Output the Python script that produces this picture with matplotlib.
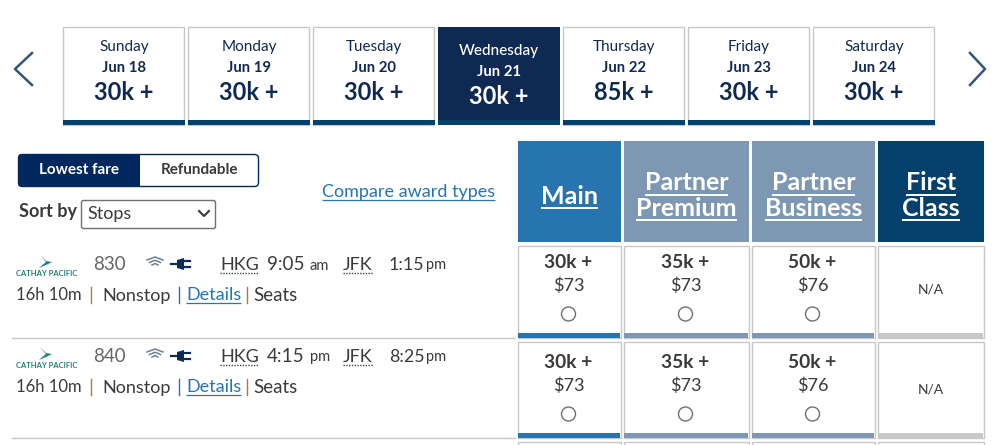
#!/usr/bin/python3
import matplotlib.pyplot as plt
from matplotlib.patches import Rectangle, FancyBboxPatch, Circle, Polygon

plt.rcParams['font.family'] = ['Lato', 'DejaVu Sans']

days = ['Sunday', 'Monday', 'Tuesday', 'Wednesday', 'Thursday', 'Friday', 'Saturday']
dates = ['Jun 18', 'Jun 19', 'Jun 20', 'Jun 21', 'Jun 22', 'Jun 23', 'Jun 24']
day_prices = ['30k +', '30k +', '30k +', '30k +', '85k +', '30k +', '30k +']
selected_day = 3

cabins = [['Main'], ['Partner', 'Premium'], ['Partner', 'Business'], ['First', 'Class']]
flight_numbers = ['830', '840']
depart = ['9:05', '4:15']
depart_ampm = ['am', 'pm']
arrive = ['1:15', '8:25']
arrive_ampm = ['pm', 'pm']
miles = ['30k +', '35k +', '50k +']
fees = ['$73', '$73', '$76']

NAVY = '#0f2a52'
TEAL = '#03406b'
BLUE = '#2774ae'
SLATE = '#7e97b3'
GREY = '#c8c8c8'
TEXT = '#3a3a3a'

dpi = 100
fig = plt.figure(figsize=(1008/dpi, 445/dpi), dpi=dpi)
ax = fig.add_axes([0, 0, 1, 1])
ax.set_xlim(0, 1008)
ax.set_ylim(445, 0)
ax.axis('off')


def box(x, y, w, h, fc='white', ec='none', lw=0, z=1):
    ax.add_patch(Rectangle((x, y), w, h, fc=fc, ec=ec, lw=lw, zorder=z))


def txt(x, y, s, size, color=TEXT, weight='normal', ha='center', **kw):
    return ax.text(x, y, s, fontsize=size, color=color, fontweight=weight,
                   ha=ha, va='center', zorder=5, **kw)


def under(t, y, color, lw=1.2, ls='-'):
    # line under a text, same width as the text
    bb = t.get_window_extent(fig.canvas.get_renderer())
    ax.plot([bb.x0, bb.x1], [y, y], color=color, lw=lw, ls=ls, zorder=5,
            solid_capstyle='butt')


# day strip
day_x = [63, 188, 313, 438, 563, 688, 813]
for i, x in enumerate(day_x):
    cx = x + 61
    if i == selected_day:
        box(x, 27, 122, 98, fc=NAVY)
        box(x, 120, 122, 5, fc=TEAL, z=2)
        txt(cx, 50.5, days[i], 11, color='white', weight='medium')
        txt(cx, 72, dates[i], 10.7, color='white', weight='bold')
        txt(cx, 96.5, day_prices[i], 17, color='white', weight='bold')
    else:
        box(x - 0.5, 26.5, 121, 98, ec=GREY, lw=1)
        box(x, 120, 122, 5, fc=TEAL, z=2)
        txt(cx, 46.5, days[i], 11, color=NAVY)
        txt(cx, 68, dates[i], 10.7, color=NAVY, weight='bold')
        txt(cx, 92.5, day_prices[i], 17, color=NAVY, weight='bold')

ax.plot([32, 15, 32], [53, 69, 85], color='#33557a', lw=1.8, zorder=5)
ax.plot([970, 985, 970], [53, 69, 85], color='#33557a', lw=1.8, zorder=5)

# fare toggle
ax.add_patch(FancyBboxPatch((18.5, 154.5), 240, 32, boxstyle='round,pad=0,rounding_size=4',
                            fc='white', ec='#00285e', lw=1, zorder=2))
ax.add_patch(FancyBboxPatch((18, 154), 122, 33, boxstyle='round,pad=0,rounding_size=4',
                            fc='#00285e', ec='none', zorder=3))
box(130, 154, 10, 33, fc='#00285e', z=3)
txt(79, 169.5, 'Lowest fare', 11, color='white', weight='bold')
txt(199, 169.5, 'Refundable', 11, weight='bold')

txt(19, 211, 'Sort by', 13, weight='bold', ha='left')
ax.add_patch(FancyBboxPatch((81.5, 200.5), 134, 28, boxstyle='round,pad=0,rounding_size=2',
                            fc='white', ec='#707070', lw=1, zorder=2))
txt(87, 213.5, 'Stops', 13, ha='left')
ax.plot([199, 204, 209], [211, 216, 211], color=TEXT, lw=1.5, zorder=5)

t = txt(322, 191.5, 'Compare award types', 13, color=BLUE, ha='left')
under(t, 199.5, BLUE, lw=0.9)

# cabin headers
col_x = [518, 624, 752, 878]
col_w = [103, 125, 123, 106]
col_fill = [BLUE, SLATE, SLATE, TEAL]
foot_fill = [BLUE, SLATE, SLATE, GREY]
for i, x in enumerate(col_x):
    box(x, 141, col_w[i], 101, fc=col_fill[i])
    cx = x + col_w[i] / 2
    lines = cabins[i]
    ys = [196] if len(lines) == 1 else [183, 208]
    for s, y in zip(lines, ys):
        t = txt(cx, y, s, 18, color='white', weight='bold')
        under(t, y + 12, 'white', lw=1.4)

# flight rows
row_y = [0, 92]
cell_y = [0, 100]
for r, dy in enumerate(row_y):
    # logo
    ax.add_patch(Polygon([(40, 255 + dy), (46, 261 + dy), (52, 262 + dy), (46, 265 + dy), (39, 268 + dy),
                          (46, 262 + dy)], fc='#1f7f7a', ec='none', zorder=5))
    txt(16, 274 + dy, 'CATHAY PACIFIC', 5.5, color='#1f7f7a', weight='bold', ha='left')
    txt(93, 264.5 + dy, flight_numbers[r], 13.5, color='#666666', ha='left')

    # wifi and power icons
    for w, lw in zip([8, 5.5, 3], [1.1, 1.1, 1.1]):
        ax.plot([155 - w, 155, 155 + w], [260 + dy + (8 - w) * 1.0, 257 + dy + (8 - w) * 1.3, 260 + dy + (8 - w) * 1.0],
                color='#6d7f93', lw=lw, zorder=5)
    ax.plot([171, 178], [264 + dy, 264 + dy], color=NAVY, lw=1.6, zorder=5)
    ax.add_patch(Polygon([(177, 260 + dy), (184, 258 + dy), (184, 270 + dy), (177, 268 + dy)],
                         fc=NAVY, ec='none', zorder=5))
    ax.plot([184, 190], [261 + dy, 261 + dy], color=NAVY, lw=1.6, zorder=5)
    ax.plot([184, 190], [267 + dy, 267 + dy], color=NAVY, lw=1.6, zorder=5)

    t = txt(220, 264.5 + dy, 'HKG', 13, ha='left')
    under(t, 273 + dy, '#444444', lw=1, ls=(0, (1, 1)))
    txt(267, 264.5 + dy, depart[r], 13.5, ha='left')
    txt(310, 265.5 + dy, depart_ampm[r], 10.5, ha='left')
    t = txt(343, 264.5 + dy, 'JFK', 13, ha='left')
    under(t, 273 + dy, '#444444', lw=1, ls=(0, (1, 1)))
    txt(389, 264.5 + dy, arrive[r], 12.8, ha='left')
    txt(426, 265.5 + dy, arrive_ampm[r], 10.5, ha='left')

    txt(16, 295.5 + dy, '16h 10m', 12, ha='left')
    ax.plot([91, 91], [287 + dy, 303 + dy], color='#b5772e', lw=1, zorder=5)
    txt(102, 295.5 + dy, 'Nonstop', 13, ha='left')
    ax.plot([179, 179], [287 + dy, 303 + dy], color=BLUE, lw=1, zorder=5)
    t = txt(186, 295.5 + dy, 'Details', 13, color=BLUE, ha='left')
    under(t, 303 + dy, BLUE, lw=0.9)
    ax.plot([247, 247], [287 + dy, 303 + dy], color='#b5772e', lw=1, zorder=5)
    txt(253, 295.5 + dy, 'Seats', 13.5, ha='left')

    # fare cells
    cy = cell_y[r]
    for i, x in enumerate(col_x):
        w = col_w[i]
        cx = x + w / 2
        top = 245.5 if r == 0 else 241.5 + cy
        box(x - 0.5, top, w, 337.5 + cy - top, ec=GREY, lw=1)
        box(x, 333 + cy, w - 1, 5, fc=foot_fill[i], z=2)
        if i < len(miles):
            txt(cx - 1, 262 + cy, miles[i], 13.8, weight='bold')
            txt(cx - 1, 286 + cy, fees[i], 13)
            ax.add_patch(Circle((cx - 1, 314 + cy), 7, fc='white', ec='#707070', lw=1, zorder=5))
        else:
            txt(cx, 289 + cy, 'N/A', 10)

# row dividers
ax.plot([12, 515], [337.5, 337.5], color=GREY, lw=1, zorder=1)
ax.plot([12, 515], [437.5, 437.5], color=GREY, lw=1, zorder=1)

# next row peeking in at the bottom
for i, x in enumerate(col_x):
    box(x - 0.5, 441.5, col_w[i], 10, ec=GREY, lw=1)

fig.savefig('out.png', dpi=dpi)
